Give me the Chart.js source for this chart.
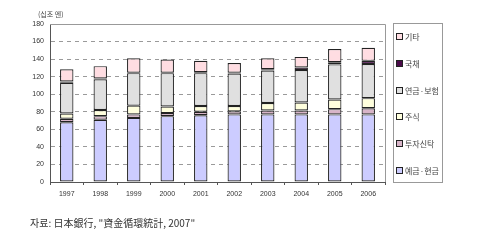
<!DOCTYPE html>
<html><head><meta charset="utf-8">
<script src="https://cdn.jsdelivr.net/npm/chart.js@4"></script>
<style>
body{margin:0;background:#fff;font-family:'Noto Sans CJK KR',sans-serif;}
#wrap{position:relative;width:480px;height:244px;}
#c{position:absolute;left:0;top:0;}
.unit{position:absolute;left:38px;top:9px;font-size:7px;color:#444;}
.src{position:absolute;left:30px;top:215px;font-size:10px;color:#333;}
#leg{position:absolute;left:393px;top:23px;width:50px;height:160px;border:1px solid #999;box-sizing:border-box;}
.li{position:absolute;left:2px;font-size:8px;color:#444;line-height:10px;white-space:nowrap;}
.li i{display:inline-block;width:5px;height:5px;border:1px solid #222;margin-right:2px;vertical-align:0px;}
</style></head>
<body><div id="wrap">
<canvas id="c" width="480" height="244"></canvas>
<div class="unit">(십조 엔)</div>
<div id="leg"></div>
<div class="src">자료: 日本銀行, "資金循環統計, 2007"</div>
</div>
<script>
/* 일본 가계 금융자산 구성 */
const years=['1997','1998','1999','2000','2001','2002','2003','2004','2005','2006'];
const deposit=[68,71,73,75,76,77,77,77,77,77];
const trust  =[4,4,4,3.5,4,3.5,4.5,4.5,6,7];
const stock  =[6,7,10,7.5,6.5,6,8.5,9,11,11.5];
const pension=[35,35,37,38,37.5,37,37,37,40,39];
const bond   =[1.5,1,0.5,0.5,1,1,1.5,3,2.5,3.5];
const other  =[14,14,16.5,15,13,11,12.5,12,15,15];
const yTicks=[0,20,40,60,80,100,120,140,160,180];

const SERIES=[
  {label:'예금·현금',data:deposit,color:'#ccccff'},
  {label:'투자신탁',data:trust,color:'#d8b4c8'},
  {label:'주식',data:stock,color:'#ffffdd'},
  {label:'연금·보험',data:pension,color:'#e0e0e0'},
  {label:'국채',data:bond,color:'#4a0a4a'},
  {label:'기타',data:other,color:'#ffdde2'},
];

const frame={id:'frame',afterDraw(ch){
  const a=ch.chartArea,c=ch.ctx;
  c.save();c.strokeStyle='#999';c.lineWidth=1;
  c.beginPath();c.moveTo(a.left,a.top+0.5);c.lineTo(a.right+0.5,a.top+0.5);c.lineTo(a.right+0.5,a.bottom);c.stroke();
  c.restore();
}};

new Chart(document.getElementById('c'),{
  type:'bar',
  data:{labels:years,datasets:SERIES.map(s=>({label:s.label,data:s.data,backgroundColor:s.color,
    borderColor:'#222',borderWidth:1.2,borderSkipped:false,barPercentage:0.4,categoryPercentage:1}))},
  options:{responsive:false,animation:false,
    layout:{padding:{top:24,right:95,left:0,bottom:0}},
    plugins:{legend:{display:false},tooltip:{enabled:false}},
    scales:{
      x:{stacked:true,
         afterFit(s){s.height=62;},
         grid:{display:true,drawOnChartArea:false,tickLength:3,color:'#555'},
         border:{color:'#555',width:1},
         ticks:{font:{size:7,family:'Arial'},color:'#333',padding:5,maxRotation:0}},
      y:{stacked:true,min:0,max:180,
         afterFit(s){s.width=50;},
         afterBuildTicks(s){s.ticks=yTicks.map(v=>({value:v}));},
         grid:{color:'#9a9a9a',drawTicks:false},
         border:{color:'#555',width:1,dash:[4,4]},
         ticks:{font:{size:7,family:'Arial'},color:'#333',padding:6}}
    }
  },
  plugins:[frame]
});

const leg=document.getElementById('leg');
SERIES.slice().reverse().forEach((s,i)=>{
  const d=document.createElement('div');d.className='li';
  d.style.top=(8+i*26.8)+'px';
  d.innerHTML='<i style="background:'+s.color+'"></i>'+s.label;
  leg.appendChild(d);
});
</script>
</body></html>
